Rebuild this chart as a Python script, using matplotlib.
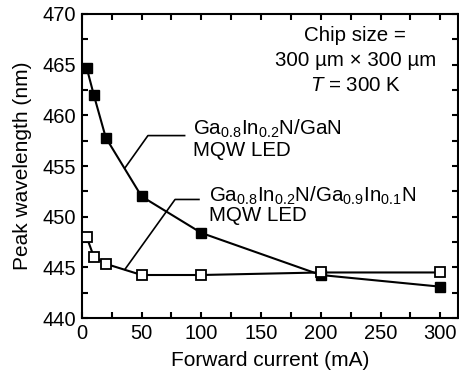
import matplotlib
matplotlib.use("Agg")
import matplotlib.pyplot as plt
from matplotlib.ticker import MultipleLocator

plt.rcParams['font.family'] = ['Liberation Sans', 'DejaVu Sans']
plt.rcParams['mathtext.fontset'] = 'custom'
plt.rcParams['mathtext.rm'] = 'Liberation Sans'
plt.rcParams['mathtext.it'] = 'Liberation Sans:italic'

# forward current (mA)
current = [4, 10, 20, 50, 100, 200, 300]
# peak wavelength (nm)
wl_gan = [464.7, 462.0, 457.8, 452.0, 448.4, 444.25, 443.1]
wl_gain = [448.0, 446.05, 445.35, 444.25, 444.25, 444.5, 444.5]

fig = plt.figure(figsize=(4.6, 3.76), dpi=100)
ax = fig.add_axes([0.178, 0.154, 0.818, 0.809])

ax.plot(current, wl_gan, '-s', color='black', lw=1.5, ms=6.5,
        mfc='black', mec='black', zorder=3)
ax.plot(current, wl_gain, '-s', color='black', lw=1.5, ms=6.5,
        mfc='white', mec='black', mew=1.3, zorder=3)

ax.set_xlim(0, 315)
ax.set_ylim(440, 470)
ax.xaxis.set_major_locator(MultipleLocator(50))
ax.xaxis.set_minor_locator(MultipleLocator(25))
ax.yaxis.set_major_locator(MultipleLocator(5))
ax.yaxis.set_minor_locator(MultipleLocator(2.5))
ax.tick_params(which='both', direction='in', top=True, right=True,
               length=4, width=1.5, labelsize=14.5, pad=4)
for s in ax.spines.values():
    s.set_linewidth(1.5)

ax.set_xlabel('Forward current (mA)', fontsize=15, labelpad=6)
ax.set_ylabel('Peak wavelength (nm)', fontsize=15, labelpad=8)

# leader lines
ax.plot([36, 55.3, 86], [454.8, 458.0, 458.0], color='black', lw=1.2)
ax.plot([36, 78, 98], [444.8, 451.7, 451.7], color='black', lw=1.2)

fs = 14.8
ax.text(93, 458.1, r'Ga$_{0.8}$In$_{0.2}$N/GaN', fontsize=fs, va='baseline')
ax.text(93, 456.0, 'MQW LED', fontsize=fs, va='baseline')
ax.text(106, 451.5, r'Ga$_{0.8}$In$_{0.2}$N/Ga$_{0.9}$In$_{0.1}$N',
        fontsize=fs, va='baseline')
ax.text(106, 449.6, 'MQW LED', fontsize=fs, va='baseline')

ax.text(229, 467.3, 'Chip size =', fontsize=fs, ha='center', va='baseline')
ax.text(229, 464.85, '300 µm × 300 µm', fontsize=fs, ha='center', va='baseline')
ax.text(229, 462.4, r'$T$ = 300 K', fontsize=fs, ha='center', va='baseline')

fig.savefig('out.png', dpi=100)
